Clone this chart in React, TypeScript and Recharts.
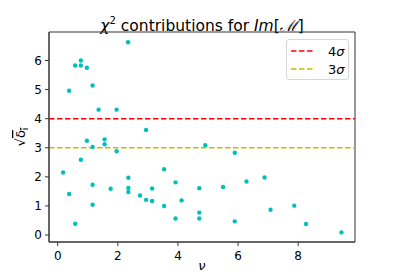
import { ScatterChart, Scatter, XAxis, YAxis, ReferenceLine, ReferenceArea } from "recharts";

// readings of nu and sqrt(delta_i) off the plot
const nu = [
  0.18, 0.38, 0.38, 0.58, 0.58, 0.77, 0.77, 0.77, 0.97, 0.97, 1.16, 1.16, 1.16, 1.16,
  1.36, 1.56, 1.56, 1.76, 1.96, 1.96, 2.34, 2.35, 2.35, 2.35, 2.74, 2.94, 2.94, 3.14,
  3.14, 3.54, 3.54, 3.92, 3.92, 4.12, 4.71, 4.71, 4.71, 4.91, 5.5, 5.89, 5.89, 6.28,
  6.88, 7.08, 7.87, 8.26, 9.44,
];
const sqrtDelta = [
  2.15, 4.96, 1.41, 5.83, 0.39, 6.0, 5.83, 2.59, 5.75, 3.24, 5.14, 3.03, 1.73, 1.04,
  4.31, 3.29, 3.12, 1.59, 4.31, 2.88, 6.63, 1.97, 1.62, 1.48, 1.36, 3.61, 1.21, 1.6,
  1.17, 2.26, 1.0, 1.81, 0.57, 1.19, 1.61, 0.77, 0.57, 3.09, 1.65, 2.83, 0.47, 1.84,
  1.98, 0.87, 1.01, 0.38, 0.09,
];
const thresholds = [
  { label: "4σ", value: 4, color: "#ff0000" },
  { label: "3σ", value: 3, color: "#bfbf00" },
];
const xTicks = [0, 2, 4, 6, 8];
const yTicks = [0, 1, 2, 3, 4, 5, 6];
const xDomain = [-0.29, 9.89];
const yDomain = [-0.24, 6.98];

const data = nu.map((x, i) => ({ x, y: sqrtDelta[i] }));

const FONT = "'DejaVu Sans', sans-serif";
const AXIS = "#333";

const Dot = (props: any) => <circle cx={props.cx} cy={props.cy} r={2.2} fill="#00bfbf" />;

const YLabel = () => (
  <text x={25} y={137} transform="rotate(-90 25 137)" textAnchor="middle" fontFamily={FONT} fontSize={13} fill="#000">
    √<tspan style={{ textDecoration: "overline" }}>δ<tspan fontSize={9} dy={3}>i</tspan></tspan>
  </text>
);

const XLabel = () => (
  <text x={202} y={270} textAnchor="middle" fontFamily={FONT} fontSize={13} fontStyle="italic" fill="#000">
    ν
  </text>
);

export default function App() {
  return (
    <div style={{ position: "absolute", left: 0, top: 0, width: 395, height: 272, background: "#fff" }}>
      <div
        style={{
          position: "absolute",
          left: 49,
          width: 306,
          top: 11,
          textAlign: "center",
          fontFamily: FONT,
          fontSize: 15.5,
          lineHeight: "20px",
          whiteSpace: "nowrap",
        }}
      >
        <i>χ</i>
        <sup style={{ fontSize: 10, verticalAlign: "7px" }}>2</sup> contributions for <i>Im</i>[
        <span style={{ fontFamily: "serif", fontStyle: "italic" }}>ℳ</span>]
      </div>
      <ScatterChart width={395} height={272} margin={{ top: 32, right: 40, bottom: 0, left: 0 }}>
        <XAxis
          type="number"
          dataKey="x"
          domain={xDomain}
          ticks={xTicks}
          allowDataOverflow
          height={30}
          stroke={AXIS}
          tickSize={4}
          tickMargin={5}
          tick={{ fontSize: 12, fill: "#000", fontFamily: FONT }}
          label={<XLabel />}
        />
        <YAxis
          type="number"
          dataKey="y"
          domain={yDomain}
          ticks={yTicks}
          allowDataOverflow
          width={49}
          stroke={AXIS}
          tickSize={4}
          tickMargin={3}
          tick={{ fontSize: 12, fill: "#000", fontFamily: FONT }}
          label={<YLabel />}
        />
        <ReferenceArea
          x1={xDomain[0]}
          x2={xDomain[1]}
          y1={yDomain[0]}
          y2={yDomain[1]}
          fill="none"
          stroke={AXIS}
          strokeWidth={1}
          ifOverflow="visible"
        />
        {thresholds.map((t) => (
          <ReferenceLine key={t.label} y={t.value} stroke={t.color} strokeWidth={1.5} strokeDasharray="5.5 2.5" />
        ))}
        <Scatter data={data} shape={<Dot />} isAnimationActive={false} />
      </ScatterChart>
      <div
        style={{
          position: "absolute",
          left: 286,
          top: 39,
          width: 63,
          height: 41,
          boxSizing: "border-box",
          border: "1px solid #d6d6d6",
          borderRadius: 3,
          background: "rgba(255,255,255,0.8)",
          fontFamily: FONT,
          fontSize: 13,
        }}
      >
        {thresholds.map((t, i) => (
          <div key={t.label} style={{ position: "absolute", left: 4, top: 3 + i * 18, height: 16, display: "flex", alignItems: "center" }}>
            <svg width={22} height={4}>
              <line x1={0} y1={2} x2={22} y2={2} stroke={t.color} strokeWidth={1.5} strokeDasharray="5.5 2.5" />
            </svg>
            <span style={{ marginLeft: 15 }}>
              {t.label.slice(0, 1)}
              <i>{t.label.slice(1)}</i>
            </span>
          </div>
        ))}
      </div>
    </div>
  );
}
